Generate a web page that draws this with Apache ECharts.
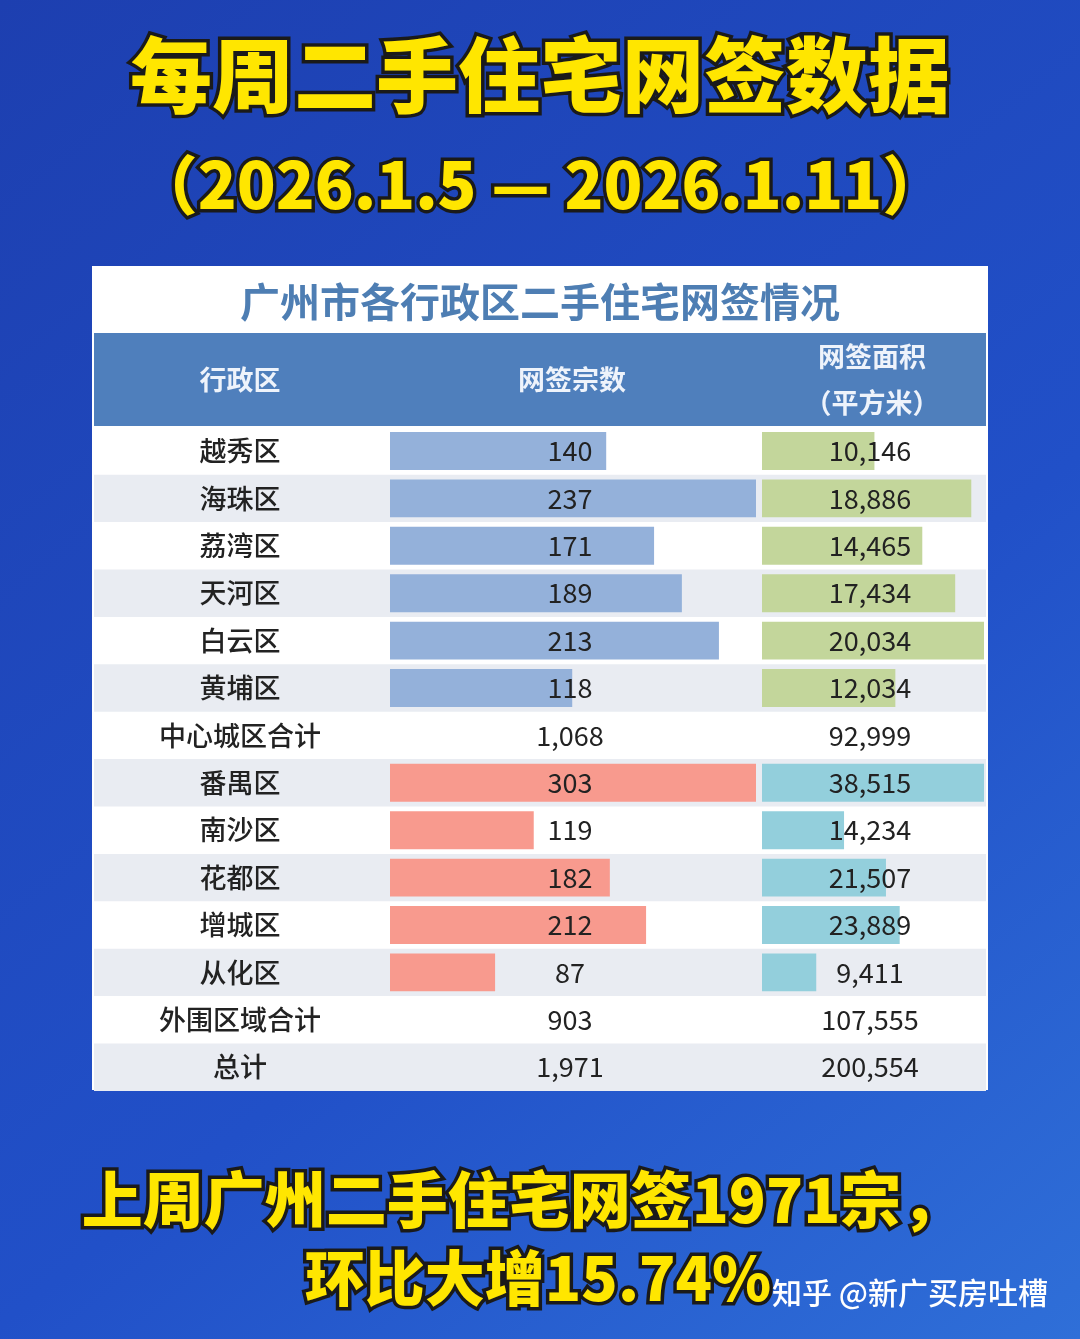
<!DOCTYPE html>
<html><head><meta charset="utf-8">
<script src="https://cdn.jsdelivr.net/npm/echarts@6/dist/echarts.min.js"></script>
<style>html,body{margin:0;padding:0}#c{width:1080px;height:1339px}</style>
</head><body><div id="c"></div>
<script>
// 数据
const rowNames = ['越秀区','海珠区','荔湾区','天河区','白云区','黄埔区','中心城区合计','番禺区','南沙区','花都区','增城区','从化区','外围区域合计','总计'];
const coreDistricts = ['越秀区','海珠区','荔湾区','天河区','白云区','黄埔区'];
const coreCount = [140, 237, 171, 189, 213, 118];
const coreArea = [10146, 18886, 14465, 17434, 20034, 12034];
const outerDistricts = ['番禺区','南沙区','花都区','增城区','从化区'];
const outerCount = [303, 119, 182, 212, 87];
const outerArea = [38515, 14234, 21507, 23889, 9411];
const totalCount = [1068, 903, 1971];   // 中心, 外围, 总计
const totalArea = [92999, 107555, 200554];

const chart = echarts.init(document.getElementById('c'));
const FONT = '"Noto Sans CJK SC", sans-serif';
const rowTop = 427.3, rowH = 47.4;
const fmt = v => v.toLocaleString('en-US');

const countCol = coreCount.concat([totalCount[0]], outerCount, [totalCount[1], totalCount[2]]);
const areaCol = coreArea.concat([totalArea[0]], outerArea, [totalArea[1], totalArea[2]]);

const graphic = [];
// 表格底板
graphic.push({type:'rect', shape:{x:92,y:266,width:896,height:824}, style:{fill:'#fff'}, z:-10});
graphic.push({type:'rect', shape:{x:94,y:333,width:892,height:93}, style:{fill:'#4f7fbc'}, z:-9});
rowNames.forEach((n, i) => {
  const y = rowTop + i * rowH;
  if (i % 2 === 1) graphic.push({type:'rect', shape:{x:94,y:y,width:892,height:rowH}, style:{fill:'#e9ecf2'}, z:-9});
  graphic.push({type:'text', x:240, y:y + rowH/2, z:10, style:{text:n, font:'500 27px '+FONT, fill:'#222', align:'center', verticalAlign:'middle'}});
  graphic.push({type:'text', x:570, y:y + rowH/2, z:10, style:{text:fmt(countCol[i]), font:'27px '+FONT, fill:'#222', align:'center', verticalAlign:'middle'}});
  graphic.push({type:'text', x:870, y:y + rowH/2, z:10, style:{text:fmt(areaCol[i]), font:'27px '+FONT, fill:'#222', align:'center', verticalAlign:'middle'}});
});
graphic.push({type:'text', x:540, y:302, style:{text:'广州市各行政区二手住宅网签情况', font:'bold 40px '+FONT, fill:'#4e7eb3', align:'center', verticalAlign:'middle'}});
graphic.push({type:'text', x:240, y:380, style:{text:'行政区', font:'bold 27px '+FONT, fill:'#eef3fb', align:'center', verticalAlign:'middle'}});
graphic.push({type:'text', x:572, y:380, style:{text:'网签宗数', font:'bold 27px '+FONT, fill:'#eef3fb', align:'center', verticalAlign:'middle'}});
graphic.push({type:'text', x:872, y:357, style:{text:'网签面积', font:'bold 27px '+FONT, fill:'#eef3fb', align:'center', verticalAlign:'middle'}});
graphic.push({type:'text', x:872, y:403, style:{text:'（平方米）', font:'bold 27px '+FONT, fill:'#eef3fb', align:'center', verticalAlign:'middle'}});
// 标题
const title = (t, x, y, size) => ({type:'text', x:x, y:y, style:{text:t, font:'900 '+size+'px '+FONT, fill:'#ffe600', stroke:'#1a1a1a', lineWidth:7, align:'center', verticalAlign:'middle'}});
graphic.push(title('每周二手住宅网签数据', 540, 75, 82));
graphic.push(title('（2026.1.5 — 2026.1.11）', 540, 185, 64));
graphic.push(title('上周广州二手住宅网签1971宗，', 522, 1200, 61));
graphic.push(title('环比大增15.74%', 538, 1278, 60));
graphic.push({type:'text', x:1048, y:1293, style:{text:'知乎 @新广买房吐槽', font:'500 30px '+FONT, fill:'#fff', align:'right', verticalAlign:'middle'}});

const grids = [
  {left:390, width:366, top:rowTop, height:rowH*6},
  {left:762, width:222, top:rowTop, height:rowH*6},
  {left:390, width:366, top:rowTop+rowH*7, height:rowH*5},
  {left:762, width:222, top:rowTop+rowH*7, height:rowH*5}
];
const maxes = [237, 20034, 303, 38515];
const cats = [coreDistricts, coreDistricts, outerDistricts, outerDistricts];
const vals = [coreCount, coreArea, outerCount, outerArea];
const colors = ['#94b1da', '#c3d69b', '#f89a8e', '#93cfdc'];

chart.setOption({
  backgroundColor: new echarts.graphic.LinearGradient(0, 0, 1, 1, [
    {offset:0, color:'#1d3fb0'}, {offset:0.6, color:'#2150c8'}, {offset:1, color:'#2f6fd8'}]),
  animation: false,
  graphic: graphic,
  grid: grids,
  xAxis: grids.map((g, i) => ({type:'value', gridIndex:i, min:0, max:maxes[i], show:false})),
  yAxis: grids.map((g, i) => ({type:'category', gridIndex:i, data:cats[i], inverse:true, show:false})),
  series: vals.map((v, i) => ({type:'bar', xAxisIndex:i, yAxisIndex:i, data:v, barWidth:'80%',
    itemStyle:{color:colors[i]}, silent:true}))
});
</script></body></html>
